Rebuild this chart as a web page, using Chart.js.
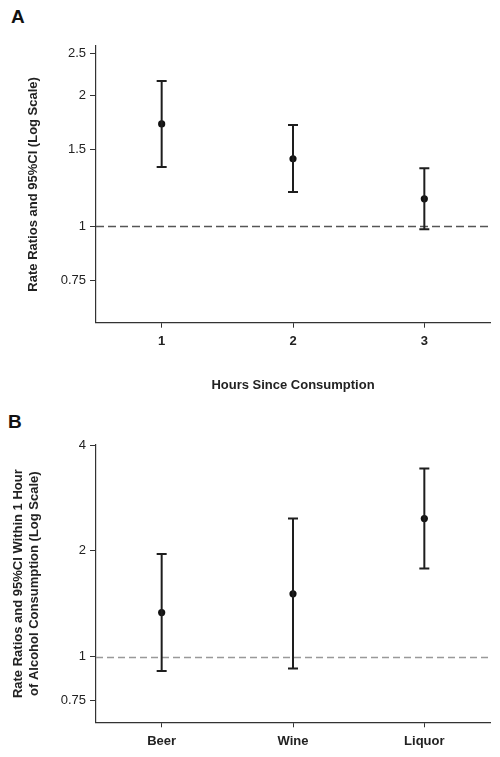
<!DOCTYPE html>
<html>
<head>
<meta charset="utf-8">
<script src="https://cdn.jsdelivr.net/npm/chart.js@4/dist/chart.umd.min.js"></script>
<style>
  html, body { margin: 0; padding: 0; background: #fff; }
  body { width: 500px; height: 757px; position: relative; overflow: hidden; font-family: "Liberation Sans", Arial, sans-serif; }
  .panel { position: absolute; left: 0; width: 500px; }
  .letter { position: absolute; font-weight: bold; font-size: 19px; line-height: 19px; color: #111; }
</style>
</head>
<body>
<div class="letter" style="left:11px;top:7px">A</div>
<div class="letter" style="left:8px;top:412px">B</div>
<div class="panel" style="top:0;height:400px"><canvas id="chartA" width="500" height="400"></canvas></div>
<div class="panel" style="top:400px;height:357px"><canvas id="chartB" width="500" height="357"></canvas></div>
<script>
// panel A: by hours since consumption
const hoursLabels = ['1', '2', '3'];
const hoursRR = [1.72, 1.43, 1.157];
const hoursLow = [1.37, 1.20, 0.985];
const hoursHigh = [2.16, 1.71, 1.36];
const hoursTicks = [0.75, 1, 1.5, 2, 2.5];

// panel B: by beverage type, within 1 hour
const drinkLabels = ['Beer', 'Wine', 'Liquor'];
const drinkRR = [1.334, 1.508, 2.47];
const drinkLow = [0.91, 0.924, 1.78];
const drinkHigh = [1.957, 2.47, 3.43];
const drinkTicks = [0.75, 1, 2, 4];

const refValue = 1;

// whiskers + caps, drawn from the low/high arrays through the scales
const errorBars = {
    id: 'errorBars',
    afterDatasetsDraw(chart, args, opts) {
        const ctx = chart.ctx;
        const x = chart.scales.x, y = chart.scales.y;
        ctx.save();
        ctx.strokeStyle = '#1e1e1e';
        ctx.lineWidth = 2;
        opts.low.forEach((lo, i) => {
            const px = x.getPixelForValue(i);
            const yLo = y.getPixelForValue(lo);
            const yHi = y.getPixelForValue(opts.high[i]);
            ctx.beginPath();
            ctx.moveTo(px, yLo); ctx.lineTo(px, yHi);
            ctx.moveTo(px - 5, yLo); ctx.lineTo(px + 5, yLo);
            ctx.moveTo(px - 5, yHi); ctx.lineTo(px + 5, yHi);
            ctx.stroke();
        });
        ctx.restore();
    }
};

// dashed line of no effect
const refLine = {
    id: 'refLine',
    beforeDatasetsDraw(chart, args, opts) {
        const ctx = chart.ctx;
        const area = chart.chartArea;
        const py = Math.round(chart.scales.y.getPixelForValue(refValue)) + 0.5;
        ctx.save();
        ctx.strokeStyle = opts.color;
        ctx.lineWidth = opts.width;
        ctx.setLineDash(opts.dash);
        ctx.beginPath();
        ctx.moveTo(area.left, py);
        ctx.lineTo(area.right, py);
        ctx.stroke();
        ctx.restore();
    }
};

const makeChart = (canvas, labels, rr, low, high, ticks, cfg) => {
    return new Chart(canvas.getContext('2d'), {
        type: 'line',
        data: {
            labels: labels,
            datasets: [{
                data: rr,
                showLine: false,
                pointRadius: 3.6,
                pointHoverRadius: 3.6,
                pointBackgroundColor: '#111',
                pointBorderColor: '#111',
                pointBorderWidth: 0
            }]
        },
        plugins: [refLine, errorBars],
        options: {
            responsive: false,
            animation: false,
            events: [],
            layout: { padding: { top: cfg.top, right: 10, left: 0, bottom: 0 } },
            plugins: {
                legend: { display: false },
                tooltip: { enabled: false },
                errorBars: { low: low, high: high },
                refLine: cfg.ref
            },
            scales: {
                x: {
                    type: 'category',
                    offset: true,
                    afterFit: s => { s.height = cfg.xHeight; },
                    border: { display: true, color: '#333', width: 1.2 },
                    grid: { drawOnChartArea: false, drawTicks: true, tickLength: 5, color: '#333', offset: false },
                    ticks: { color: '#222', padding: 6, font: { family: 'Liberation Sans', size: 13, weight: 'bold' } },
                    title: {
                        display: !!cfg.xTitle,
                        text: cfg.xTitle || '',
                        color: '#222',
                        padding: { top: 0, bottom: 7 },
                        font: { family: 'Liberation Sans', size: 13, weight: 'bold', lineHeight: 1.2 }
                    }
                },
                y: {
                    type: 'logarithmic',
                    min: cfg.min,
                    max: cfg.max,
                    afterFit: s => { s.width = 96; },
                    afterBuildTicks: s => { s.ticks = ticks.map(v => ({ value: v })); },
                    border: { display: true, color: '#333', width: 1.2 },
                    grid: { drawOnChartArea: false, drawTicks: true, tickLength: 6, color: '#333' },
                    ticks: {
                        color: '#222',
                        padding: 4,
                        font: { family: 'Liberation Sans', size: 13 },
                        callback: v => String(v)
                    },
                    title: {
                        display: true,
                        text: cfg.yTitle,
                        color: '#222',
                        padding: { top: cfg.yTitlePad, bottom: 0 },
                        font: { family: 'Liberation Sans', size: 13, weight: 'bold', lineHeight: 1.22 }
                    }
                }
            }
        }
    });
};

makeChart(document.getElementById('chartA'), hoursLabels, hoursRR, hoursLow, hoursHigh, hoursTicks, {
    top: 46, xHeight: 77.3, min: 0.648, max: 2.6,
    xTitle: 'Hours Since Consumption',
    yTitle: 'Rate Ratios and 95%CI (Log Scale)',
    yTitlePad: 25,
    ref: { color: '#555', width: 1.3, dash: [8, 4] }
});

makeChart(document.getElementById('chartB'), drinkLabels, drinkRR, drinkLow, drinkHigh, drinkTicks, {
    top: 45, xHeight: 34.7, min: 0.65, max: 4,
    xTitle: null,
    yTitle: ['Rate Ratios and 95%CI Within 1 Hour', 'of Alcohol Consumption (Log Scale)'],
    yTitlePad: 10.3,
    ref: { color: '#999', width: 1.6, dash: [7, 4] }
});
</script>
</body>
</html>
